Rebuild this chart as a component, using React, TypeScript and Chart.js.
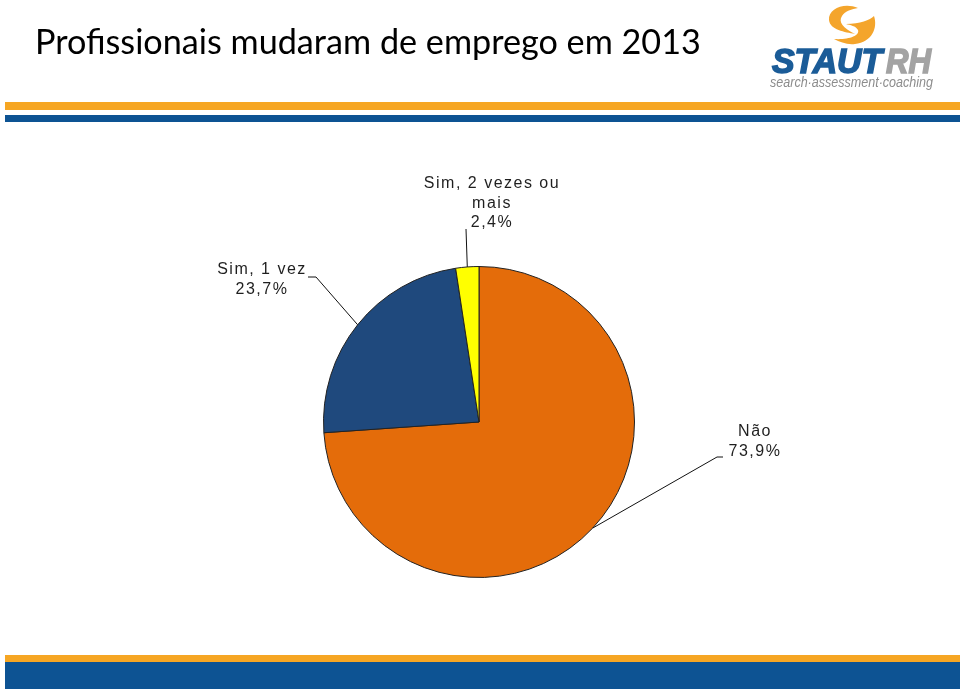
import React, { useEffect, useRef } from "react";
import { Chart, registerables } from "chart.js";

Chart.register(...registerables);

// ---- data ----
const categories = ["Não", "Sim, 1 vez", "Sim, 2 vezes ou mais"];
const labelLines = [["Não"], ["Sim, 1 vez"], ["Sim, 2 vezes ou", "mais"]];
const values = [73.9, 23.7, 2.4];
const sliceColors = ["#E46C0A", "#1F497D", "#FFFF00"];

// label layout relative to pie centre: elbow point, stub end, text centre x, first line centre y
const labelLayout = [
  { elbow: [238, 35], stub: [244, 35], tx: 276, ty: 10 },
  { elbow: [-163, -145], stub: [-171, -145], tx: -217, ty: -152 },
  { elbow: [-13, -193], stub: [-13, -193], tx: 13, ty: -238 },
];

const labelPlugin = {
  id: "pieLabels",
  afterDraw(chart: any) {
    const ctx = chart.ctx;
    const meta = chart.getDatasetMeta(0);
    ctx.save();
    ctx.font = "16px 'Liberation Sans', Arial, sans-serif";
    (ctx as any).letterSpacing = "1.5px";
    ctx.textAlign = "center";
    ctx.textBaseline = "middle";
    meta.data.forEach((arc: any, i: number) => {
      const { x, y, startAngle, endAngle, outerRadius } = arc.getProps(
        ["x", "y", "startAngle", "endAngle", "outerRadius"],
        true
      );
      const mid = (startAngle + endAngle) / 2;
      const ex = x + Math.cos(mid) * outerRadius;
      const ey = y + Math.sin(mid) * outerRadius;
      const L = labelLayout[i];
      ctx.strokeStyle = "#111";
      ctx.lineWidth = 1;
      ctx.beginPath();
      ctx.moveTo(ex, ey);
      ctx.lineTo(x + L.elbow[0], y + L.elbow[1]);
      ctx.lineTo(x + L.stub[0], y + L.stub[1]);
      ctx.stroke();
      const lines = [...labelLines[i], values[i].toFixed(1).replace(".", ",") + "%"];
      ctx.fillStyle = "#1f1f1f";
      lines.forEach((t, k) => {
        ctx.fillText(t, x + L.tx, y + L.ty + k * 19.5);
      });
    });
    ctx.restore();
  },
};

function Logo() {
  return (
    <svg
      width={200}
      height={100}
      viewBox="760 0 200 100"
      style={{ position: "absolute", left: 760, top: 0 }}
    >
      <path
        d="M 858 8 C 845 2, 828 8, 829 20 C 830 30, 845 32, 855 34 C 843 28, 838 22, 842 16 C 845 11, 852 9, 858 8 Z"
        fill="#F4A52C"
      />
      <path
        d="M 846 24 C 860 24, 870 20, 874 16 C 878 28, 872 42, 855 44 C 847 45, 840 42, 834 39 C 848 40, 860 36, 858 30 C 856 26, 850 25, 846 24 Z"
        fill="#F4A52C"
      />
      <text
        x={772}
        y={73}
        fontFamily="'Liberation Sans', Arial, sans-serif"
        fontWeight="bold"
        fontStyle="italic"
        fontSize={35}
        fill="#1B5C98"
        stroke="#1B5C98"
        strokeWidth={1.6}
        textLength={110}
        lengthAdjust="spacingAndGlyphs"
      >
        STAUT
      </text>
      <text
        x={886}
        y={73}
        fontFamily="'Liberation Sans', Arial, sans-serif"
        fontWeight="bold"
        fontStyle="italic"
        fontSize={35}
        fill="#A3A3A3"
        stroke="#A3A3A3"
        strokeWidth={1.6}
        textLength={45}
        lengthAdjust="spacingAndGlyphs"
      >
        RH
      </text>
      <text
        x={770}
        y={87}
        fontFamily="'Liberation Sans', Arial, sans-serif"
        fontStyle="italic"
        fontSize={15}
        fill="#8C8C8C"
        textLength={163}
        lengthAdjust="spacingAndGlyphs"
      >
        search·assessment·coaching
      </text>
    </svg>
  );
}

export default function App() {
  const ref = useRef<HTMLCanvasElement>(null);
  useEffect(() => {
    if (!ref.current) return;
    const chart = new Chart(ref.current, {
      type: "pie",
      data: {
        labels: categories,
        datasets: [
          {
            data: values,
            backgroundColor: sliceColors,
            borderColor: "#222",
            borderWidth: 1,
          },
        ],
      },
      options: {
        responsive: false,
        animation: false,
        layout: { padding: { left: 323, right: 325, top: 266, bottom: 113 } },
        plugins: { legend: { display: false }, tooltip: { enabled: false } },
      },
      plugins: [labelPlugin],
    });
    return () => chart.destroy();
  }, []);

  return (
    <div
      style={{
        position: "absolute",
        left: 0,
        top: 0,
        width: 960,
        height: 691,
        background: "#fff",
        overflow: "hidden",
      }}
    >
      <canvas
        ref={ref}
        width={960}
        height={691}
        style={{ position: "absolute", left: 0, top: 0, display: "block" }}
      />
      <div
        style={{
          position: "absolute",
          left: 35,
          top: 20,
          fontFamily: "Lato, 'Open Sans', sans-serif",
          fontSize: 34.2,
          lineHeight: "42px",
          color: "#000",
          whiteSpace: "nowrap",
        }}
      >
        Profissionais mudaram de emprego em 2013
      </div>
      <div style={{ position: "absolute", left: 5, top: 102, width: 955, height: 8, background: "#F6A623" }} />
      <div style={{ position: "absolute", left: 5, top: 115, width: 955, height: 7, background: "#0D5393" }} />
      <div style={{ position: "absolute", left: 5, top: 655, width: 955, height: 7, background: "#F6A623" }} />
      <div style={{ position: "absolute", left: 5, top: 662, width: 955, height: 27, background: "#0D5393" }} />
      <Logo />
    </div>
  );
}
